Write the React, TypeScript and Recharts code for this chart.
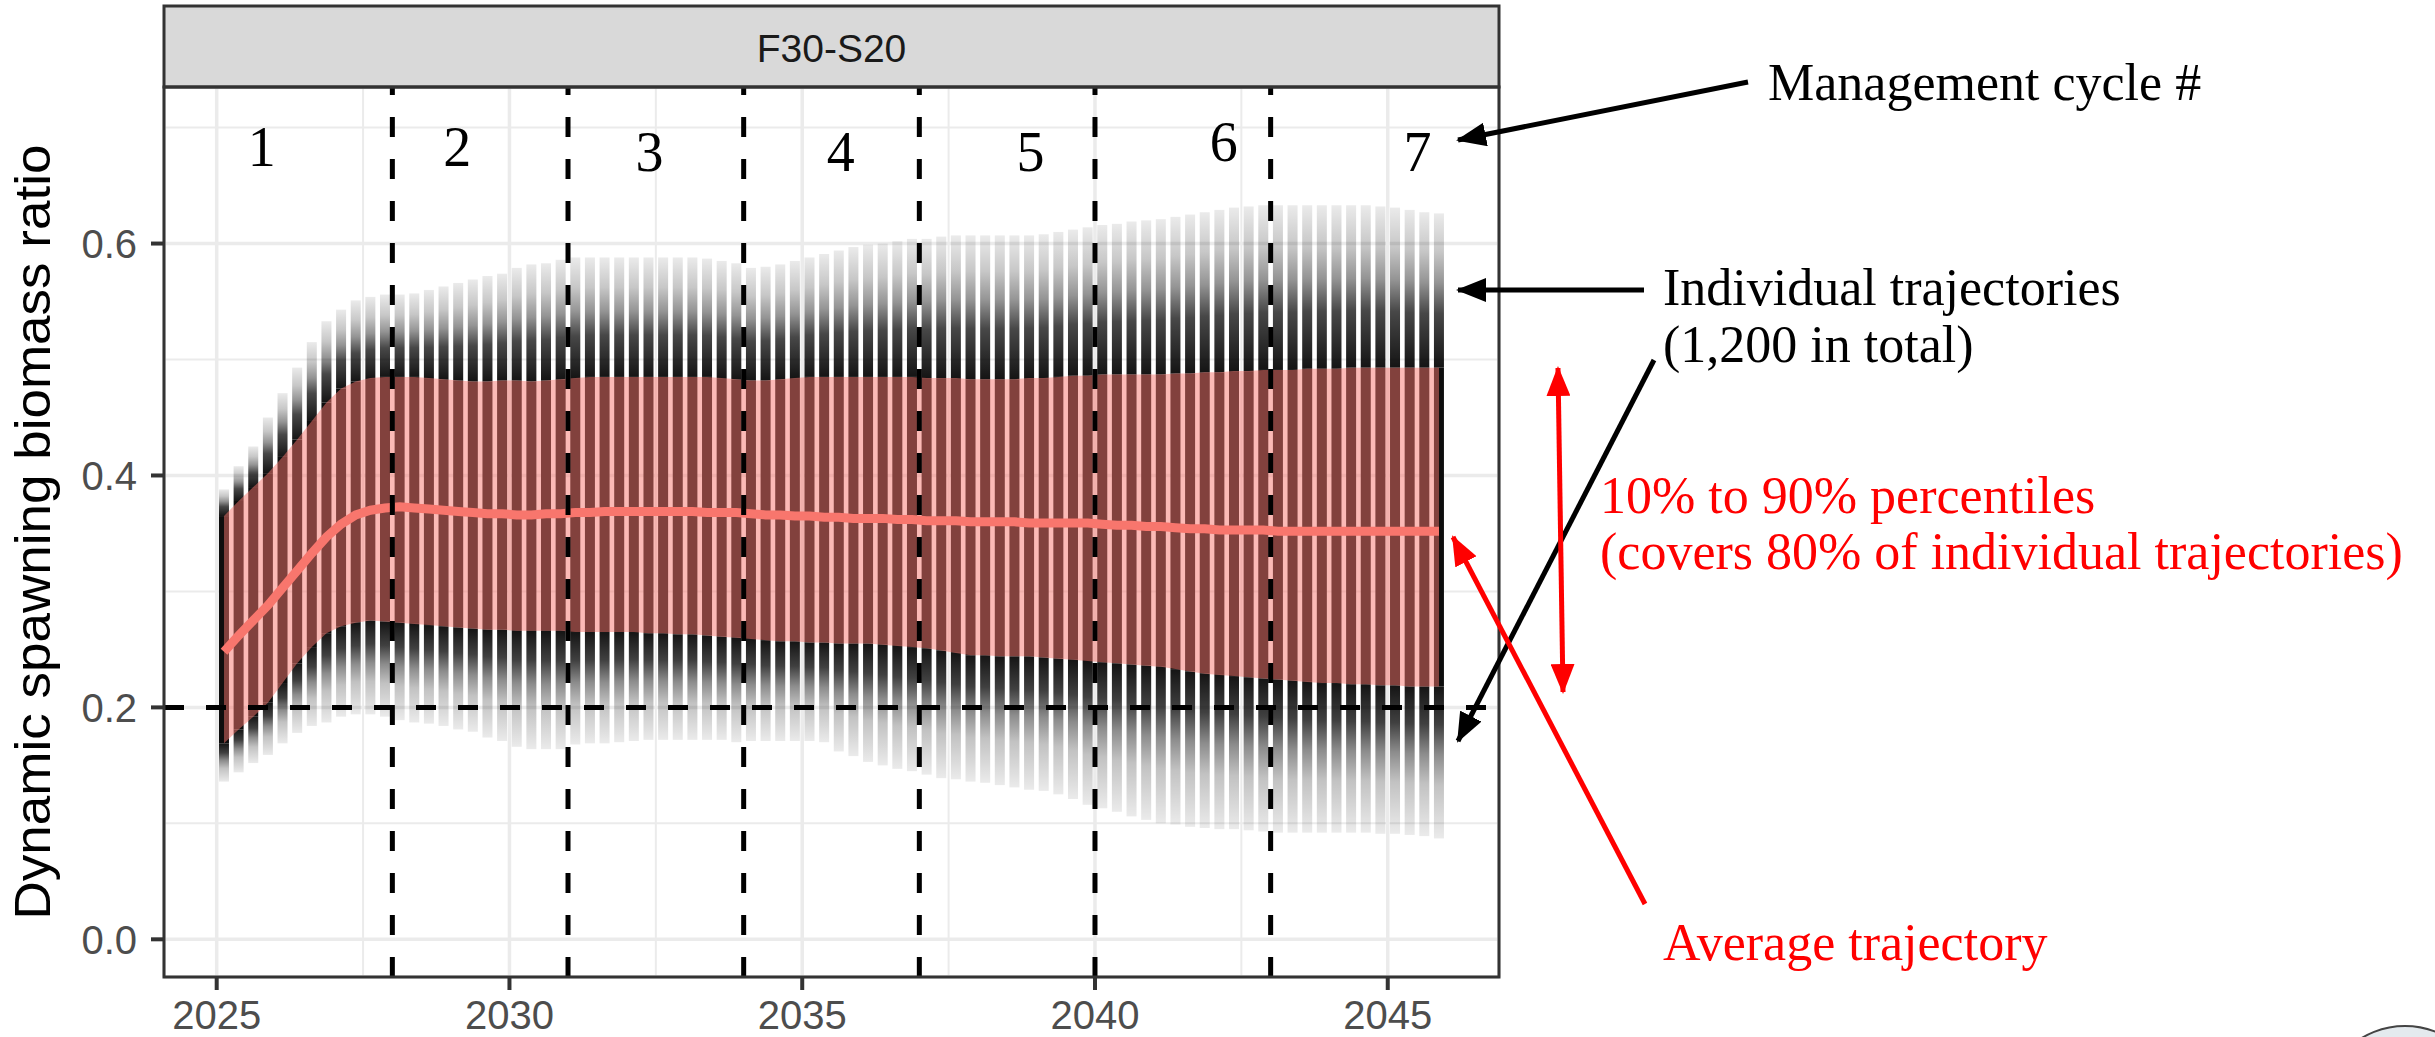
import React from "react";
import {
  ComposedChart,
  Bar,
  Area,
  Line,
  Scatter,
  XAxis,
  YAxis,
  CartesianGrid,
  ReferenceLine,
} from "recharts";

const SANS = "'Liberation Sans', Arial, Helvetica, sans-serif";
const SERIF = "'Liberation Serif', 'Times New Roman', serif";

// quarterly time steps of the projection
const quarterYears = [
  2025.125, 2025.375, 2025.625, 2025.875, 2026.125, 2026.375, 2026.625, 2026.875,
  2027.125, 2027.375, 2027.625, 2027.875, 2028.125, 2028.375, 2028.625, 2028.875,
  2029.125, 2029.375, 2029.625, 2029.875, 2030.125, 2030.375, 2030.625, 2030.875,
  2031.125, 2031.375, 2031.625, 2031.875, 2032.125, 2032.375, 2032.625, 2032.875,
  2033.125, 2033.375, 2033.625, 2033.875, 2034.125, 2034.375, 2034.625, 2034.875,
  2035.125, 2035.375, 2035.625, 2035.875, 2036.125, 2036.375, 2036.625, 2036.875,
  2037.125, 2037.375, 2037.625, 2037.875, 2038.125, 2038.375, 2038.625, 2038.875,
  2039.125, 2039.375, 2039.625, 2039.875, 2040.125, 2040.375, 2040.625, 2040.875,
  2041.125, 2041.375, 2041.625, 2041.875, 2042.125, 2042.375, 2042.625, 2042.875,
  2043.125, 2043.375, 2043.625, 2043.875, 2044.125, 2044.375, 2044.625, 2044.875,
  2045.125, 2045.375, 2045.625, 2045.875,
];

// highest individual trajectory at each step
const upperFaint = [
  0.388, 0.408, 0.425, 0.450, 0.471, 0.493, 0.515, 0.533,
  0.543, 0.551, 0.554, 0.556, 0.556, 0.557, 0.560, 0.563,
  0.566, 0.569, 0.572, 0.574, 0.579, 0.582, 0.583, 0.586,
  0.588, 0.588, 0.588, 0.588, 0.588, 0.588, 0.588, 0.588,
  0.588, 0.587, 0.585, 0.583, 0.579, 0.580, 0.582, 0.585,
  0.588, 0.591, 0.594, 0.597, 0.599, 0.600, 0.602, 0.604,
  0.604, 0.606, 0.607, 0.607, 0.607, 0.607, 0.607, 0.607,
  0.608, 0.610, 0.612, 0.614, 0.616, 0.617, 0.619, 0.620,
  0.621, 0.623, 0.625, 0.627, 0.629, 0.631, 0.632, 0.633,
  0.633, 0.633, 0.633, 0.633, 0.633, 0.633, 0.633, 0.632,
  0.631, 0.629, 0.627, 0.626,
];

// 90% percentile
const upper90 = [
  0.365, 0.378, 0.390, 0.402, 0.416, 0.431, 0.447, 0.463,
  0.475, 0.481, 0.484, 0.485, 0.485, 0.485, 0.484, 0.483,
  0.482, 0.481, 0.481, 0.482, 0.482, 0.481, 0.482, 0.483,
  0.484, 0.485, 0.485, 0.485, 0.485, 0.485, 0.485, 0.485,
  0.485, 0.485, 0.484, 0.483, 0.482, 0.482, 0.483, 0.484,
  0.485, 0.485, 0.485, 0.485, 0.485, 0.485, 0.485, 0.485,
  0.484, 0.484, 0.484, 0.483, 0.483, 0.483, 0.483, 0.484,
  0.484, 0.485, 0.486, 0.486, 0.487, 0.487, 0.487, 0.487,
  0.487, 0.488, 0.488, 0.489, 0.489, 0.490, 0.490, 0.491,
  0.491, 0.491, 0.492, 0.492, 0.492, 0.493, 0.493, 0.493,
  0.493, 0.493, 0.493, 0.493,
];

// average trajectory
const meanRatio = [
  0.248, 0.262, 0.275, 0.288, 0.303, 0.318, 0.333, 0.347,
  0.358, 0.366, 0.370, 0.372, 0.373, 0.372, 0.371, 0.370,
  0.369, 0.368, 0.367, 0.367, 0.366, 0.366, 0.367, 0.367,
  0.368, 0.368, 0.369, 0.369, 0.369, 0.369, 0.369, 0.369,
  0.369, 0.368, 0.368, 0.368, 0.367, 0.366, 0.366, 0.365,
  0.365, 0.364, 0.364, 0.363, 0.363, 0.363, 0.362, 0.362,
  0.361, 0.361, 0.361, 0.360, 0.360, 0.360, 0.360, 0.359,
  0.359, 0.359, 0.359, 0.359, 0.358, 0.357, 0.357, 0.356,
  0.356, 0.355, 0.354, 0.354, 0.353, 0.353, 0.353, 0.353,
  0.352, 0.352, 0.352, 0.352, 0.352, 0.352, 0.352, 0.352,
  0.352, 0.352, 0.352, 0.352,
];

// 10% percentile
const lower10 = [
  0.169, 0.181, 0.192, 0.204, 0.221, 0.238, 0.252, 0.264,
  0.270, 0.273, 0.275, 0.274, 0.273, 0.272, 0.271, 0.270,
  0.269, 0.268, 0.267, 0.267, 0.266, 0.266, 0.266, 0.266,
  0.265, 0.265, 0.265, 0.265, 0.265, 0.264, 0.264, 0.263,
  0.263, 0.262, 0.261, 0.260, 0.259, 0.258, 0.257, 0.257,
  0.256, 0.256, 0.255, 0.255, 0.255, 0.254, 0.253, 0.252,
  0.251, 0.249, 0.247, 0.245, 0.245, 0.244, 0.244, 0.244,
  0.243, 0.242, 0.241, 0.240, 0.239, 0.238, 0.237, 0.236,
  0.235, 0.233, 0.231, 0.229, 0.228, 0.227, 0.226, 0.225,
  0.224, 0.223, 0.222, 0.221, 0.221, 0.220, 0.220, 0.219,
  0.219, 0.218, 0.218, 0.218,
];

// lowest individual trajectory at each step
const lowerFaint = [
  0.136, 0.144, 0.152, 0.159, 0.169, 0.178, 0.184, 0.187,
  0.192, 0.194, 0.194, 0.192, 0.189, 0.187, 0.186, 0.184,
  0.181, 0.179, 0.174, 0.171, 0.166, 0.164, 0.164, 0.164,
  0.168, 0.169, 0.169, 0.170, 0.171, 0.172, 0.172, 0.172,
  0.172, 0.172, 0.172, 0.170, 0.171, 0.171, 0.171, 0.171,
  0.171, 0.170, 0.162, 0.158, 0.153, 0.150, 0.147, 0.145,
  0.142, 0.139, 0.138, 0.136, 0.135, 0.133, 0.131, 0.129,
  0.128, 0.125, 0.121, 0.116, 0.113, 0.110, 0.106, 0.103,
  0.100, 0.099, 0.097, 0.096, 0.095, 0.095, 0.094, 0.093,
  0.092, 0.092, 0.092, 0.092, 0.092, 0.092, 0.092, 0.091,
  0.091, 0.090, 0.089, 0.087,
];

const xTicks = [2025, 2030, 2035, 2040, 2045];
const xMinorTicks = [2027.5, 2032.5, 2037.5, 2042.5];
const yTicks = [0, 0.2, 0.4, 0.6];
const yMinorTicks = [0.1, 0.3, 0.5, 0.7];
const cycleBreaks = [2028, 2031, 2034, 2037, 2040, 2043];
const limitLevel = 0.2;

const cycleNumbers = ["1", "2", "3", "4", "5", "6", "7"];
const cycleLabelYears = [2025.77, 2029.11, 2032.39, 2035.66, 2038.9, 2042.2, 2045.51];
const cycleLabelLevels = [0.683, 0.683, 0.679, 0.679, 0.679, 0.688, 0.679];

const rows = quarterYears.map((t, i) => ({
  t,
  min: lowerFaint[i],
  p10: lower10[i],
  mean: meanRatio[i],
  p90: upper90[i],
  max: upperFaint[i],
}));

const cycleLabels = cycleNumbers.map((label, i) => ({
  t: cycleLabelYears[i],
  level: cycleLabelLevels[i],
  label,
}));

const COLUMN_WIDTH = 10;

// one column of overlapping trajectory points, faded towards the extremes
const TrajectoryColumn = (props: any) => {
  const { x, y, width, height, payload } = props;
  if (!payload || !height) return null;
  const top = Math.min(y, y + height);
  const h = Math.abs(height);
  const span = payload.max - payload.min;
  const toY = (v: number) => top + ((payload.max - v) / span) * h;
  const y90 = toY(payload.p90);
  const y10 = toY(payload.p10);
  const left = x + width / 2 - COLUMN_WIDTH / 2;
  return (
    <g>
      <rect x={left} y={top} width={COLUMN_WIDTH} height={y90 - top} fill="url(#fadeUp)" />
      <rect x={left} y={y90} width={COLUMN_WIDTH} height={y10 - y90} fill="#0d0d0d" />
      <rect x={left} y={y10} width={COLUMN_WIDTH} height={top + h - y10} fill="url(#fadeDown)" />
    </g>
  );
};

const CycleLabel = (props: any) => {
  const { cx, cy, payload } = props;
  return (
    <text
      x={cx}
      y={cy}
      textAnchor="middle"
      dominantBaseline="central"
      fontFamily={SERIF}
      fontSize={56}
      fill="#000"
    >
      {payload.label}
    </text>
  );
};

const Annotations = () => (
  <svg
    width={2435}
    height={1037}
    style={{ position: "absolute", left: 0, top: 0, pointerEvents: "none" }}
  >
    <defs>
      <marker id="headBlack" markerWidth="30" markerHeight="24" refX="28" refY="12" orient="auto" markerUnits="userSpaceOnUse">
        <path d="M0,0 L30,12 L0,24 Z" fill="#000" />
      </marker>
      <marker id="headRed" markerWidth="30" markerHeight="24" refX="28" refY="12" orient="auto-start-reverse" markerUnits="userSpaceOnUse">
        <path d="M0,0 L30,12 L0,24 Z" fill="#FF0000" />
      </marker>
    </defs>

    {/* facet strip */}
    <rect x={164} y={6} width={1335} height={81} fill="#D9D9D9" stroke="#333333" strokeWidth={3} />
    <text x={831.5} y={62} textAnchor="middle" fontFamily={SANS} fontSize={39} fill="#1A1A1A">
      F30-S20
    </text>
    <rect x={164} y={87} width={1335} height={890} fill="none" stroke="#333333" strokeWidth={3} />

    <text
      transform="translate(50,532) rotate(-90)"
      textAnchor="middle"
      fontFamily={SANS}
      fontSize={50}
      textLength={775}
      lengthAdjust="spacingAndGlyphs"
      fill="#000"
    >
      Dynamic spawning biomass ratio
    </text>

    <g fontFamily={SERIF} fontSize={52}>
      <text x={1768} y={100} fill="#000">Management cycle #</text>
      <text x={1663} y={305} fill="#000">Individual trajectories</text>
      <text x={1663} y={362} fill="#000">(1,200 in total)</text>
      <text x={1600} y={513} fill="#FF0000">10% to 90% percentiles</text>
      <text x={1600} y={569} fill="#FF0000">(covers 80% of individual trajectories)</text>
      <text x={1663} y={960} fill="#FF0000">Average trajectory</text>
    </g>

    <g strokeWidth={5} fill="none">
      <line x1={1748} y1={82} x2={1458} y2={140} stroke="#000" markerEnd="url(#headBlack)" />
      <line x1={1644} y1={290} x2={1458} y2={290} stroke="#000" markerEnd="url(#headBlack)" />
      <line x1={1654} y1={360} x2={1458} y2={741} stroke="#000" markerEnd="url(#headBlack)" />
      <line
        x1={1558}
        y1={368}
        x2={1563}
        y2={692}
        stroke="#FF0000"
        markerStart="url(#headRed)"
        markerEnd="url(#headRed)"
      />
      <line x1={1645} y1={904} x2={1453} y2={537} stroke="#FF0000" markerEnd="url(#headRed)" />
    </g>

    <circle cx={2405} cy={1110} r={84} fill="#E4EAEE" stroke="#444" strokeWidth={2} />
  </svg>
);

const App = () => {
  return (
    <div
      style={{
        position: "absolute",
        left: 0,
        top: 0,
        width: 2435,
        height: 1037,
        background: "#fff",
        overflow: "hidden",
      }}
    >
      <ComposedChart
        width={2435}
        height={1037}
        data={rows}
        margin={{ top: 87, right: 936, bottom: 0, left: 0 }}
      >
        <defs>
          <linearGradient id="fadeUp" x1="0" y1="0" x2="0" y2="1">
            <stop offset="0%" stopColor="#000" stopOpacity={0.08} />
            <stop offset="25%" stopColor="#000" stopOpacity={0.22} />
            <stop offset="45%" stopColor="#000" stopOpacity={0.42} />
            <stop offset="65%" stopColor="#000" stopOpacity={0.72} />
            <stop offset="100%" stopColor="#000" stopOpacity={0.92} />
          </linearGradient>
          <linearGradient id="fadeDown" x1="0" y1="0" x2="0" y2="1">
            <stop offset="0%" stopColor="#000" stopOpacity={0.92} />
            <stop offset="25%" stopColor="#000" stopOpacity={0.75} />
            <stop offset="45%" stopColor="#000" stopOpacity={0.45} />
            <stop offset="65%" stopColor="#000" stopOpacity={0.24} />
            <stop offset="100%" stopColor="#000" stopOpacity={0.08} />
          </linearGradient>
        </defs>
        <CartesianGrid
          stroke="#EBEBEB"
          strokeWidth={2}
          horizontalValues={yMinorTicks}
          verticalValues={xMinorTicks}
        />
        <CartesianGrid stroke="#EBEBEB" strokeWidth={3.5} />
        <XAxis
          dataKey="t"
          type="number"
          domain={[2024.1, 2046.9]}
          allowDataOverflow
          ticks={xTicks}
          interval={0}
          height={60}
          axisLine={false}
          tickSize={13}
          tickMargin={11}
          tickLine={{ stroke: "#333333", strokeWidth: 4 }}
          tick={{ fontSize: 40, fill: "#4D4D4D", fontFamily: SANS }}
        />
        <YAxis
          type="number"
          domain={[-0.0325, 0.735]}
          allowDataOverflow
          ticks={yTicks}
          interval={0}
          width={164}
          axisLine={false}
          tickSize={13}
          tickMargin={14}
          tickLine={{ stroke: "#333333", strokeWidth: 4 }}
          tickFormatter={(v: number) => v.toFixed(1)}
          tick={{ fontSize: 40, fill: "#4D4D4D", fontFamily: SANS }}
        />
        <Bar
          dataKey={(d: any) => [d.min, d.max]}
          barSize={10}
          shape={TrajectoryColumn}
          zIndex={100}
          isAnimationActive={false}
        />
        <Area
          dataKey={(d: any) => [d.p10, d.p90]}
          type="linear"
          stroke="none"
          fill="#F8766D"
          fillOpacity={0.5}
          zIndex={350}
          isAnimationActive={false}
        />
        <Line
          dataKey="mean"
          type="linear"
          stroke="#F8766D"
          strokeWidth={9}
          dot={false}
          zIndex={400}
          isAnimationActive={false}
        />
        {cycleBreaks.map((b) => (
          <ReferenceLine key={b} x={b} stroke="#000" strokeWidth={5} strokeDasharray="20 22" zIndex={450} />
        ))}
        <ReferenceLine y={limitLevel} stroke="#000" strokeWidth={5} strokeDasharray="20 22" zIndex={450} />
        <Scatter
          data={cycleLabels}
          dataKey="level"
          shape={CycleLabel}
          isAnimationActive={false}
        />
      </ComposedChart>
      <Annotations />
    </div>
  );
};

export default App;
